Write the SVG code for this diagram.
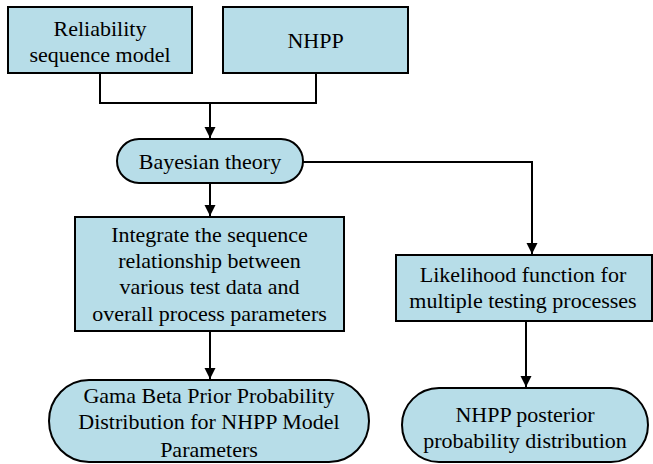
<svg xmlns="http://www.w3.org/2000/svg" width="653" height="464" viewBox="0 0 653 464">
<defs>
<marker id="ah" markerWidth="11" markerHeight="14" refX="11" refY="7" orient="auto" markerUnits="userSpaceOnUse">
<path d="M0,1.5 L11,7 L0,12.5 Z" fill="#000"/>
</marker>
</defs>
<rect width="653" height="464" fill="#fff"/>
<g id="connectors" fill="none" stroke="#000" stroke-width="2">
<path d="M100,73 V103 H316 V73"/>
<path d="M210,103 V138" marker-end="url(#ah)"/>
<path d="M210,183 V216" marker-end="url(#ah)"/>
<path d="M303,162 H532 V254" marker-end="url(#ah)"/>
<path d="M210,331 V379" marker-end="url(#ah)"/>
<path d="M526,321 V387" marker-end="url(#ah)"/>
</g>
<g id="reliability">
<rect x="8" y="7" width="184" height="66" fill="#b7dde8" stroke="#000" stroke-width="2"/>
<text x="100" y="36" font-family="Liberation Serif" font-size="22" text-anchor="middle">Reliability</text>
<text x="100" y="62" font-family="Liberation Serif" font-size="22" text-anchor="middle">sequence model</text>
</g>
<g id="nhpp">
<rect x="223" y="7" width="185" height="66" fill="#b7dde8" stroke="#000" stroke-width="2"/>
<text x="315.5" y="48" font-family="Liberation Serif" font-size="22" text-anchor="middle">NHPP</text>
</g>
<g id="bayesian">
<rect x="117" y="139" width="186" height="44" rx="22" ry="22" fill="#b7dde8" stroke="#000" stroke-width="2"/>
<text x="210" y="169" font-family="Liberation Serif" font-size="22" text-anchor="middle">Bayesian theory</text>
</g>
<g id="integrate">
<rect x="75" y="217" width="269" height="114" fill="#b7dde8" stroke="#000" stroke-width="2"/>
<text x="209.5" y="242" font-family="Liberation Serif" font-size="22" text-anchor="middle">Integrate the sequence</text>
<text x="209.5" y="268" font-family="Liberation Serif" font-size="22" text-anchor="middle">relationship between</text>
<text x="209.5" y="294" font-family="Liberation Serif" font-size="22" text-anchor="middle">various test data and</text>
<text x="209.5" y="321" font-family="Liberation Serif" font-size="22" text-anchor="middle">overall process parameters</text>
</g>
<g id="likelihood">
<rect x="396" y="255" width="256" height="66" fill="#b7dde8" stroke="#000" stroke-width="2"/>
<text x="523" y="282" font-family="Liberation Serif" font-size="22" text-anchor="middle">Likelihood function for</text>
<text x="523" y="308" font-family="Liberation Serif" font-size="22" text-anchor="middle">multiple testing processes</text>
</g>
<g id="gama">
<rect x="49" y="380" width="320" height="82" rx="40" ry="41" fill="#b7dde8" stroke="#000" stroke-width="2"/>
<text x="209" y="403" font-family="Liberation Serif" font-size="22" text-anchor="middle">Gama Beta Prior Probability</text>
<text x="209" y="429" font-family="Liberation Serif" font-size="22" text-anchor="middle">Distribution for NHPP Model</text>
<text x="209" y="457" font-family="Liberation Serif" font-size="22" text-anchor="middle">Parameters</text>
</g>
<g id="posterior">
<rect x="402" y="388" width="246" height="74" rx="37" ry="37" fill="#b7dde8" stroke="#000" stroke-width="2"/>
<text x="525" y="422" font-family="Liberation Serif" font-size="22" text-anchor="middle">NHPP posterior</text>
<text x="525" y="448" font-family="Liberation Serif" font-size="22" text-anchor="middle">probability distribution</text>
</g>
</svg>
